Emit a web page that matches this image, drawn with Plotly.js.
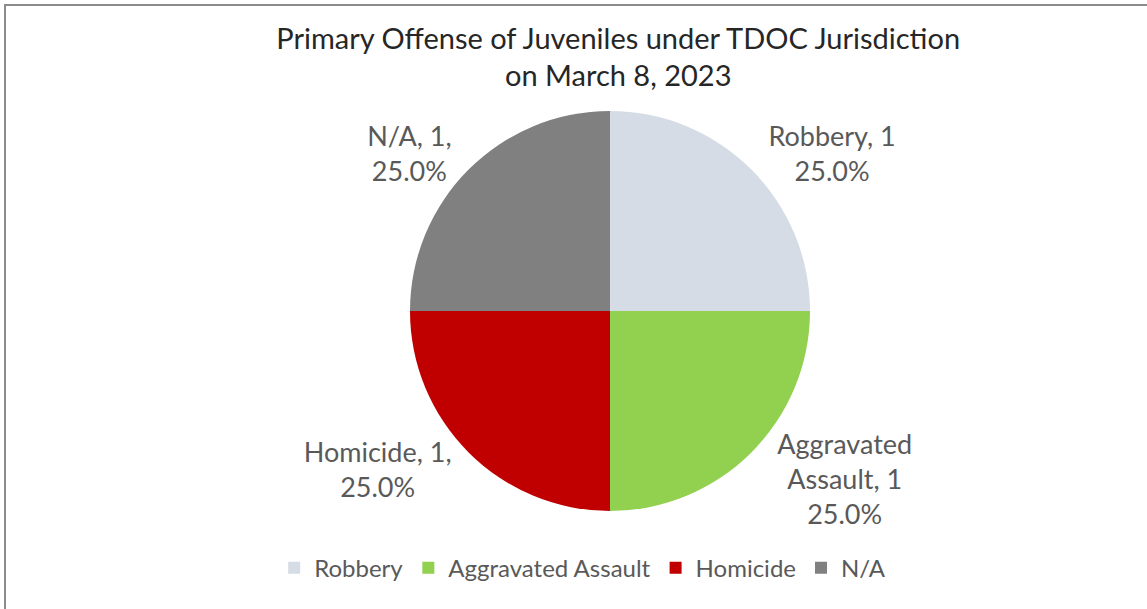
<!DOCTYPE html>
<html>
<head>
<meta charset="utf-8">
<script src="https://cdn.plot.ly/plotly-3.0.1.min.js"></script>
<style>
html, body { margin: 0; padding: 0; background: #fff; overflow: hidden; }
#frame { position: absolute; left: 4px; top: 4px; width: 1143px; height: 605px;
  border-left: 2px solid #8c8c8c; border-top: 2px solid #8c8c8c; box-sizing: border-box; }
#chart { position: absolute; left: 0; top: 0; width: 1147px; height: 609px; }
</style>
</head>
<body>
<div id="frame"></div>
<div id="chart"></div>
<script>
const categories = ["Robbery", "Aggravated Assault", "Homicide", "N/A"];
const counts = [1, 1, 1, 1];
const labelTexts = ["Robbery, 1<br>25.0%", "Aggravated<br>Assault, 1<br>25.0%", "Homicide, 1,<br>25.0%", "N/A, 1,<br>25.0%"];
const colors = ["#D6DCE5", "#92D050", "#C00000", "#808080"];

const trace = {
  type: "pie",
  labels: categories,
  values: counts,
  text: labelTexts,
  textinfo: "text",
  textposition: "outside",
  direction: "clockwise",
  rotation: 0,
  sort: false,
  hole: 0,
  marker: { colors: colors, line: { width: 0 } },
  outsidetextfont: { family: "Lato, 'Open Sans', sans-serif", size: 27, color: "#595959" },
  automargin: false,
  domain: { x: [410/1147, 810/1147], y: [97/609, 499/609] },
  hoverinfo: "label+value+percent"
};

const layout = {
  width: 1147, height: 609,
  margin: { l: 0, r: 0, t: 0, b: 0 },
  paper_bgcolor: "rgba(0,0,0,0)",
  plot_bgcolor: "rgba(0,0,0,0)",
  font: { family: "Lato, 'Open Sans', sans-serif", color: "#595959" },
  title: {
    text: "Primary Offense of Juveniles under TDOC Jurisdiction<br>on March 8, 2023",
    font: { family: "Lato, 'Open Sans', sans-serif", size: 29, color: "#262626" },
    x: 0.539, xanchor: "center", y: 0.92, yanchor: "top"
  },
  showlegend: true,
  legend: {
    orientation: "h", x: 0.508, xanchor: "center", y: 0.03, yanchor: "bottom",
    font: { family: "Lato, 'Open Sans', sans-serif", size: 24, color: "#595959" },
    itemwidth: 30, tracegroupgap: 0
  }
};

Plotly.newPlot("chart", [trace], layout, { displayModeBar: false, staticPlot: true });
</script>
</body>
</html>
